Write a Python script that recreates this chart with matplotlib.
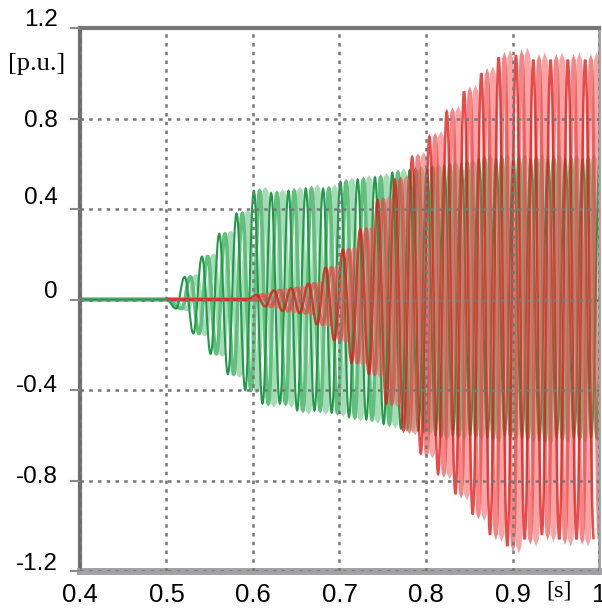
import numpy as np
import matplotlib
matplotlib.use("Agg")
import matplotlib.pyplot as plt
from matplotlib.path import Path
from matplotlib.patches import PathPatch
from matplotlib.transforms import ScaledTranslation

# ---------------- data ----------------
# start time of every 50 Hz cycle after the disturbance [s]
cycle_t = [0.50, 0.52, 0.54, 0.56, 0.58, 0.60, 0.62, 0.64, 0.66, 0.68,
           0.70, 0.72, 0.74, 0.76, 0.78, 0.80, 0.82, 0.84, 0.86, 0.88,
           0.90, 0.92, 0.94, 0.96, 0.98]
# green signal: positive / negative peak of each cycle [p.u.]
green_top = [0.10, 0.19, 0.29, 0.38, 0.48, 0.47, 0.48, 0.49, 0.49, 0.52,
             0.53, 0.54, 0.56, 0.57, 0.58, 0.59, 0.60, 0.62, 0.62, 0.62,
             0.62, 0.62, 0.62, 0.62, 0.62]
green_bot = [-0.04, -0.15, -0.24, -0.33, -0.40, -0.46, -0.46, -0.49, -0.49, -0.50,
             -0.52, -0.53, -0.55, -0.57, -0.58, -0.60, -0.60, -0.60, -0.61, -0.60,
             -0.61, -0.62, -0.61, -0.61, -0.61]
# red signal: positive / negative peak of each cycle [p.u.]
red_top = [0.0, 0.0, 0.0, 0.0, 0.0, 0.02, 0.04, 0.05, 0.07, 0.14,
           0.22, 0.31, 0.44, 0.53, 0.63, 0.72, 0.83, 0.92, 1.00, 1.07,
           1.08, 1.06, 1.06, 1.06, 1.06]
red_bot = [0.0, 0.0, 0.0, 0.0, 0.0, -0.03, -0.05, -0.06, -0.11, -0.18,
           -0.28, -0.33, -0.46, -0.58, -0.68, -0.77, -0.86, -0.95, -1.04, -1.09,
           -1.06, -1.04, -1.06, -1.06, -1.06]
pre_t = [0.40, 0.50]          # flat part before the disturbance
pre_v = [0.0, 0.0]

x_ticks = [0.4, 0.5, 0.6, 0.7, 0.8, 0.9, 1.0]
x_labels = ["0.4", "0.5", "0.6", "0.7", "0.8", "0.9", "1"]
y_ticks = [-1.2, -0.8, -0.4, 0.0, 0.4, 0.8, 1.2]
y_labels = ["-1.2", "-0.8", "-0.4", "0", "0.4", "0.8", "1.2"]

# ---------------- figure ----------------
fig = plt.figure(figsize=(6.02, 6.15), dpi=100)
ax = fig.add_axes([80 / 602, 44 / 615, 519 / 602, 543 / 615])

ct = np.array(cycle_t)
phase_shift = [0.0, 0.02 / 3, 0.04 / 3]


def peaks(first_off, second_off, first_vals, second_vals, shift, t0, v0):
    t1 = ct + first_off + shift
    t2 = ct + second_off + shift
    tt = np.empty(2 * len(ct))
    vv = np.empty(2 * len(ct))
    tt[0::2], tt[1::2] = t1, t2
    vv[0::2], vv[1::2] = first_vals, second_vals
    return np.concatenate([t0, tt]), np.concatenate([v0, vv])


def smooth_path(t, v, k=0.40):
    """Line through the peak points, drawn as Bezier arcs with flat tangents at the peaks."""
    verts = [(t[0], v[0])]
    codes = [Path.MOVETO]
    for a in range(len(t) - 1):
        dt = t[a + 1] - t[a]
        if v[a] == v[a + 1]:
            verts.append((t[a + 1], v[a + 1]))
            codes.append(Path.LINETO)
            continue
        verts += [(t[a] + k * dt, v[a]), (t[a + 1] - k * dt, v[a + 1]), (t[a + 1], v[a + 1])]
        codes += [Path.CURVE4] * 3
    return Path(verts, codes)


green_cols = ["#1f9a48", "#62bf7e", "#a6dbb5"]
green_lw = [1.5, 2.6, 3.6]
order = [2, 1, 0]
for i in order:
    t, v = peaks(0.011, 0.021, green_bot, green_top, phase_shift[i], pre_t, pre_v)
    ax.add_patch(PathPatch(smooth_path(t, v), fill=False, edgecolor=green_cols[i],
                           lw=green_lw[i], zorder=2))

red_cols = ["#e31818", "#ea3a3a", "#f05a5a"]
red_lw = [1.8, 2.6, 3.5]
red_alpha = [0.78, 0.62, 0.55]
for i in order:
    t, v = peaks(0.004, 0.014, red_top, red_bot, phase_shift[i], pre_t[1:], pre_v[1:])
    ax.add_patch(PathPatch(smooth_path(t, v), fill=False, edgecolor=red_cols[i],
                           lw=red_lw[i], alpha=red_alpha[i], zorder=2.1))

ax.set_xlim(0.4, 1.0)
ax.set_ylim(-1.2, 1.2)
ax.set_xticks(x_ticks)
ax.set_xticklabels(x_labels)
ax.set_yticks(y_ticks)
ax.set_yticklabels(y_labels)

ax.set_axisbelow(False)
ax.grid(True, color="#777777", lw=1.8, linestyle=(0, (1.4, 2.1)), zorder=3)

for lab in ax.get_xticklabels():
    lab.set_fontfamily("Liberation Sans")
    lab.set_fontsize(18.5)
for lab in ax.get_yticklabels():
    lab.set_fontfamily("Liberation Sans")
    lab.set_fontsize(17.5)

ax.tick_params(axis="x", length=0, pad=9)
ax.tick_params(axis="y", direction="out", length=7, width=1.5, color="#8a8a8a", pad=9)

# vertical nudges of the y labels as in the reference (pixels up)
nudge = {"1.2": 10, "0.8": 0, "0.4": 14, "0": 10, "-0.4": 7, "-0.8": 6, "-1.2": 9}
for lab in ax.get_yticklabels():
    dy = nudge.get(lab.get_text(), 0)
    lab.set_transform(lab.get_transform() + ScaledTranslation(0, dy / 100, fig.dpi_scale_trans))

ax.spines["left"].set_color("#6e6e6e")
ax.spines["left"].set_linewidth(3)
ax.spines["top"].set_color("#767676")
ax.spines["top"].set_linewidth(3)
ax.spines["bottom"].set_color("#a2a2a6")
ax.spines["bottom"].set_linewidth(5)
ax.spines["right"].set_color("#a0a0a0")
ax.spines["right"].set_linewidth(2)

fig.text(37 / 602, 1 - 64 / 615, "[p.u.]", family="Liberation Serif", fontsize=19,
         ha="center", va="center")
fig.text(559 / 602, 1 - 591 / 615, "[s]", family="Liberation Serif", fontsize=17.5,
         ha="center", va="center")

fig.savefig("out.png", dpi=100)
